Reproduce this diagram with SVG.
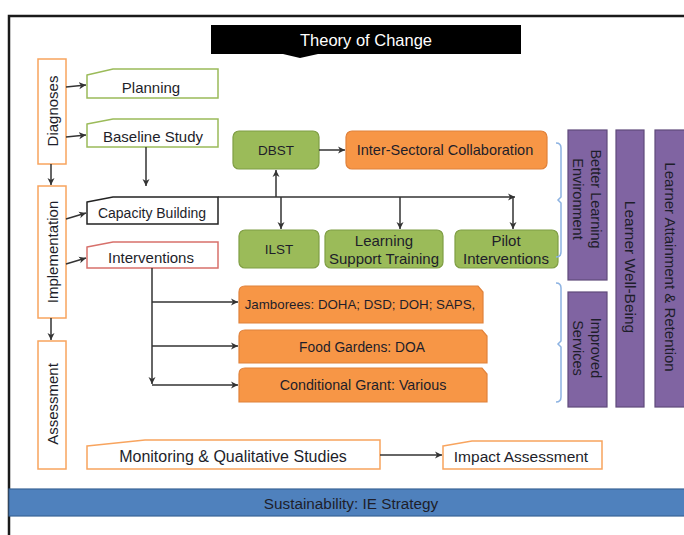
<svg xmlns="http://www.w3.org/2000/svg" width="684" height="535" viewBox="0 0 684 535">
<defs>
<marker id="a" markerWidth="9" markerHeight="9" refX="7" refY="4" orient="auto" markerUnits="userSpaceOnUse"><path d="M0,0.5 L7,4 L0,7.5 L2,4 Z" fill="#333"/></marker>
<style>
text{font-family:"Liberation Sans",Arial,sans-serif;font-size:14.5px;fill:#1e1e2a;text-anchor:middle;dominant-baseline:central}
.c line,.c path{stroke:#333;stroke-width:1.5;fill:none}
.stage{fill:#fff;stroke:#f8a45e;stroke-width:1.5}
.gbox{fill:#9bbb59;stroke:#7f9e44;stroke-width:1.2}
.obox{fill:#f79646;stroke:#e0813a;stroke-width:1.2}
.pbox{fill:#8064a2;stroke:#5f4a7b;stroke-width:1.2}
.brace{fill:none;stroke:#8db3e2;stroke-width:1.5}
.s15{font-size:15px}
</style>
</defs>
<rect width="684" height="535" fill="#fff"/>
<g id="frame"><path d="M9,535 V16 H684" fill="none" stroke="#1a1a1a" stroke-width="2.5"/></g>
<g id="title"><path d="M211,25 H521 V54 H318 L300,58 L283,54 H211 Z" fill="#000"/><text x="366" y="40" style="fill:#fff;font-size:16.5px">Theory of Change</text></g>
<g id="diagnoses"><rect class="stage" x="38" y="59" width="28" height="105"/><text class="s15" transform="translate(52,111) rotate(-90)">Diagnoses</text></g>
<g id="implementation"><rect class="stage" x="38" y="186" width="28" height="132"/><text class="s15" transform="translate(52,252) rotate(-90)">Implementation</text></g>
<g id="assessment"><rect class="stage" x="38" y="341" width="28" height="128"/><text class="s15" transform="translate(52,404) rotate(-90)">Assessment</text></g>
<g id="planning"><path d="M87,75 L113,69 H218 V98 H87 Z" fill="#fff" stroke="#9bbb59" stroke-width="1.5"/><text class="s15" x="151" y="87">Planning</text></g>
<g id="baseline"><path d="M87,124 L113,119 H218 V147 H87 Z" fill="#fff" stroke="#9bbb59" stroke-width="1.5"/><text class="s15" x="153" y="136">Baseline Study</text></g>
<g id="capacity"><path d="M87,202 L113,197 H218 V224 H87 Z" fill="#fff" stroke="#222" stroke-width="1.5"/><text x="152" y="213" style="font-size:14px">Capacity Building</text></g>
<g id="interventions"><path d="M87,247 L113,242 H218 V268 H87 Z" fill="#fff" stroke="#d7706b" stroke-width="1.5"/><text class="s15" x="151" y="257">Interventions</text></g>
<g id="dbst"><rect class="gbox" x="233" y="131" width="86" height="38" rx="6"/><text x="276" y="150" style="font-size:13.5px">DBST</text></g>
<g id="isc"><rect class="obox" x="346" y="131" width="201" height="38" rx="6"/><text x="445" y="150">Inter-Sectoral Collaboration</text></g>
<g id="ilst"><rect class="gbox" x="239" y="230" width="80" height="38" rx="6"/><text x="279" y="249" style="font-size:13.5px">ILST</text></g>
<g id="lst"><rect class="gbox" x="325" y="230" width="118" height="38" rx="6"/><text class="s15" x="384" y="240">Learning</text><text class="s15" x="384" y="258">Support Training</text></g>
<g id="pilot"><rect class="gbox" x="455" y="230" width="103" height="38" rx="6"/><text class="s15" x="506" y="240">Pilot</text><text class="s15" x="506" y="258">Interventions</text></g>
<g id="jamborees"><path class="obox" d="M239,323 V292 Q239,286 245,286 H478 L483,292 V323 Z"/><text x="360" y="304" style="font-size:13.3px">Jamborees: DOHA; DSD; DOH; SAPS,</text></g>
<g id="food"><path class="obox" d="M239,363 V336 Q239,330 245,330 H482 L487,336 V363 Z"/><text x="362" y="347" style="font-size:13.8px">Food Gardens: DOA</text></g>
<g id="grant"><path class="obox" d="M239,402 V374 Q239,368 245,368 H482 L487,374 V402 Z"/><text x="363" y="385" style="font-size:14.3px">Conditional Grant: Various</text></g>
<g id="braces"><path class="brace" d="M556,143 Q561,143 561,148 V197 L558,200 L561,203 V252 Q561,257 556,257"/><path class="brace" d="M556,283 Q561,283 561,288 V341 L558,344 L561,347 V397 Q561,402 556,402"/></g>
<g id="better"><rect class="pbox" x="568" y="130" width="39" height="150"/><text transform="translate(587,199) rotate(90)"><tspan x="0" y="-9">Better Learning</tspan><tspan x="0" y="9">Environment</tspan></text></g>
<g id="improved"><rect class="pbox" x="568" y="292" width="39" height="115"/><text transform="translate(587,348) rotate(90)"><tspan x="0" y="-9">Improved</tspan><tspan x="0" y="9">Services</tspan></text></g>
<g id="wellbeing"><rect class="pbox" x="616" y="130" width="28" height="277"/><text transform="translate(630,267) rotate(90)" style="font-size:15.5px">Learner Well-Being</text></g>
<g id="attainment"><rect class="pbox" x="655" y="130" width="31" height="277"/><text class="s15" transform="translate(670,267) rotate(90)">Learner Attainment &amp; Retention</text></g>
<g id="monitoring"><path d="M87,446 L145,440 H380 V469 H87 Z" class="stage"/><text x="233" y="456" style="font-size:16px">Monitoring &amp; Qualitative Studies</text></g>
<g id="impact"><path d="M443,446 L472,441 H602 V469 H443 Z" class="stage"/><text x="521" y="456" style="font-size:15.5px">Impact Assessment</text></g>
<g id="sustainability"><rect x="9" y="489" width="677" height="27" fill="#4f81bd" stroke="#3a6496" stroke-width="1.2"/><text x="351" y="503" style="font-size:15.3px">Sustainability: IE Strategy</text></g>
<g class="c" id="connectors">
<line x1="66" y1="87" x2="86" y2="85" marker-end="url(#a)"/>
<line x1="66" y1="137" x2="86" y2="135" marker-end="url(#a)"/>
<line x1="51" y1="164" x2="51" y2="185" marker-end="url(#a)"/>
<line x1="51" y1="318" x2="51" y2="340" marker-end="url(#a)"/>
<line x1="66" y1="219" x2="86" y2="213" marker-end="url(#a)"/>
<line x1="66" y1="264" x2="86" y2="258" marker-end="url(#a)"/>
<line x1="146" y1="147" x2="146" y2="186" marker-end="url(#a)"/>
<line x1="218" y1="197" x2="515" y2="197" marker-end="url(#a)"/>
<line x1="513" y1="197" x2="513" y2="229" marker-end="url(#a)"/>
<line x1="276" y1="197" x2="276" y2="170" marker-end="url(#a)"/>
<line x1="281" y1="197" x2="281" y2="229" marker-end="url(#a)"/>
<line x1="400" y1="197" x2="400" y2="229" marker-end="url(#a)"/>
<line x1="319" y1="150" x2="345" y2="150" marker-end="url(#a)"/>
<line x1="152" y1="268" x2="152" y2="384" marker-end="url(#a)"/>
<line x1="152" y1="302" x2="238" y2="302" marker-end="url(#a)"/>
<line x1="152" y1="346" x2="238" y2="346" marker-end="url(#a)"/>
<line x1="152" y1="385" x2="238" y2="385" marker-end="url(#a)"/>
<line x1="380" y1="455" x2="442" y2="455" marker-end="url(#a)"/>
</g>
</svg>
